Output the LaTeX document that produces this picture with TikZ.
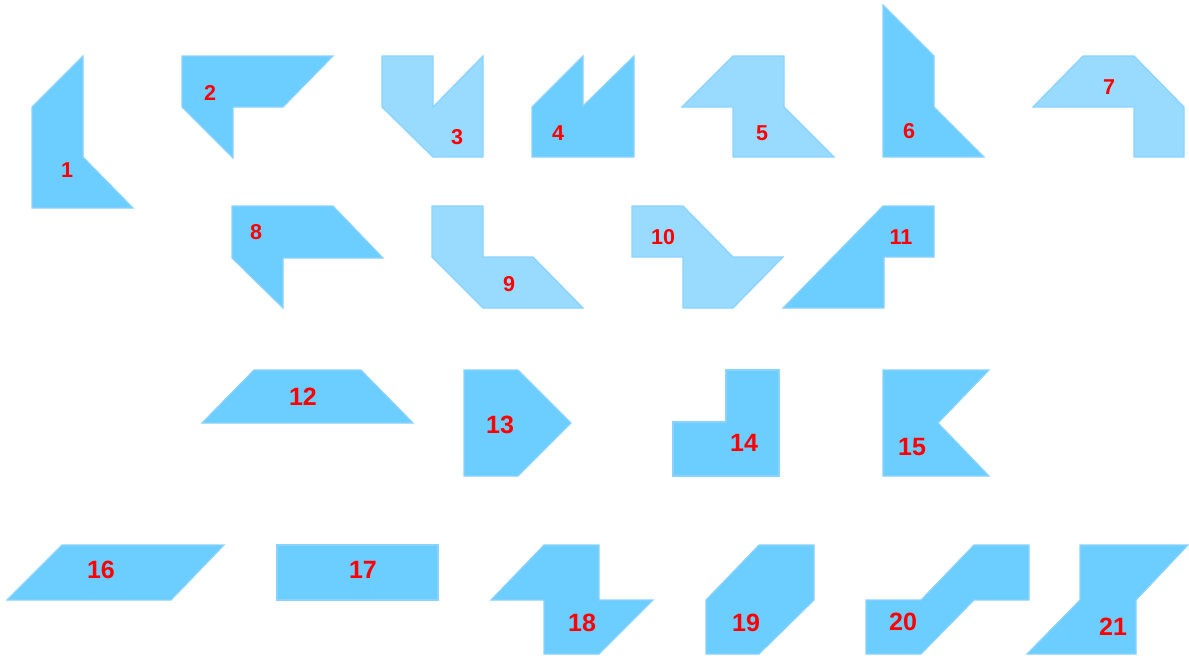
\documentclass[tikz,border=0pt]{standalone}
\usepackage{fontspec}
\setmainfont{Liberation Sans}
\definecolor{darkfill}{HTML}{6CCDFF}
\definecolor{lightfill}{HTML}{99DBFF}
\definecolor{edgeblue}{HTML}{8AD2FF}
\definecolor{labelred}{HTML}{FF0000}
\tikzset{
  darkpiece/.style={fill=darkfill, draw=edgeblue, line width=1.2pt, line join=miter},
  lightpiece/.style={fill=lightfill, draw=edgeblue, line width=1.2pt, line join=miter},
  smalllabel/.style={text=labelred, font=\bfseries\fontsize{21.5}{23}\selectfont, inner sep=0pt},
  biglabel/.style={text=labelred, font=\bfseries\fontsize{25}{27}\selectfont, inner sep=0pt}
}
\begin{document}
\begin{tikzpicture}[x=1pt,y=-1pt]
\useasboundingbox (0,0) rectangle (1189,656);
% row 1
\fill[darkpiece] (83,56) -- (32,107) -- (32,208) -- (133,208) -- (83,157) -- cycle;
\node[smalllabel] (l1) at (67,170) {1};
\fill[darkpiece] (182,56) -- (333,56) -- (283,107) -- (233,107) -- (233,158) -- (182,107) -- cycle;
\node[smalllabel] (l2) at (210,93) {2};
\fill[lightpiece] (382,56) -- (433,56) -- (433,107) -- (483,56) -- (483,157) -- (433,157) -- (382,107) -- cycle;
\node[smalllabel] (l3) at (457,137) {3};
\fill[darkpiece] (532,107) -- (583,56) -- (583,106) -- (634,56) -- (634,157) -- (532,157) -- cycle;
\node[smalllabel] (l4) at (558,133) {4};
\fill[lightpiece] (682,107) -- (733,56) -- (784,56) -- (784,107) -- (834,157) -- (733,157) -- (733,107) -- cycle;
\node[smalllabel] (l5) at (762,133) {5};
\fill[darkpiece] (883,5) -- (934,56) -- (934,107) -- (984,157) -- (883,157) -- cycle;
\node[smalllabel] (l6) at (909,131) {6};
\fill[lightpiece] (1033,107) -- (1083,56) -- (1134,56) -- (1184,107) -- (1184,157) -- (1134,157) -- (1134,107) -- cycle;
\node[smalllabel] (l7) at (1109,87) {7};
% row 2
\fill[darkpiece] (232,206) -- (333,206) -- (383,258) -- (283,258) -- (283,308) -- (232,258) -- cycle;
\node[smalllabel] (l8) at (256,232) {8};
\fill[lightpiece] (432,206) -- (483,206) -- (483,257) -- (533,257) -- (583,308) -- (483,308) -- (432,257) -- cycle;
\node[smalllabel] (l9) at (509,284) {9};
\fill[lightpiece] (632,206) -- (683,206) -- (733,257) -- (783,257) -- (733,308) -- (683,308) -- (683,257) -- (632,257) -- cycle;
\node[smalllabel] (l10) at (663,237) {10};
\fill[darkpiece] (783,308) -- (883,206) -- (934,206) -- (934,257) -- (884,257) -- (884,308) -- cycle;
\node[smalllabel] (l11) at (901,237) {11};
% row 3
\fill[darkpiece] (202,423) -- (254,370) -- (361,370) -- (413,423) -- cycle;
\node[biglabel] (l12) at (303,397) {12};
\fill[darkpiece] (464,370) -- (518,370) -- (571,423) -- (518,476) -- (464,476) -- cycle;
\node[biglabel] (l13) at (500,425) {13};
\fill[darkpiece] (673,422) -- (726,422) -- (726,370) -- (779,370) -- (779,476) -- (673,476) -- cycle;
\node[biglabel] (l14) at (744,443) {14};
\fill[darkpiece] (883,370) -- (989,370) -- (938,423) -- (989,476) -- (883,476) -- cycle;
\node[biglabel] (l15) at (912,447) {15};
% row 4
\fill[darkpiece] (7,600) -- (62,545) -- (224,545) -- (171,600) -- cycle;
\node[biglabel] (l16) at (101,570) {16};
\fill[darkpiece] (277,545) -- (438,545) -- (438,600) -- (277,600) -- cycle;
\node[biglabel] (l17) at (363,570) {17};
\fill[darkpiece] (491,600) -- (544,545) -- (599,545) -- (599,600) -- (653,600) -- (599,654) -- (544,654) -- (544,600) -- cycle;
\node[biglabel] (l18) at (582,623) {18};
\fill[darkpiece] (706,600) -- (759,545) -- (814,545) -- (814,600) -- (759,654) -- (706,654) -- cycle;
\node[biglabel] (l19) at (746,623) {19};
\fill[darkpiece] (866,600) -- (921,600) -- (974,545) -- (1029,545) -- (1029,600) -- (974,600) -- (921,654) -- (866,654) -- cycle;
\node[biglabel] (l20) at (903,622) {20};
\fill[darkpiece] (1080,545) -- (1188,545) -- (1136,600) -- (1136,654) -- (1027,654) -- (1080,600) -- cycle;
\node[biglabel] (l21) at (1113,627) {21};
\end{tikzpicture}
\end{document}
